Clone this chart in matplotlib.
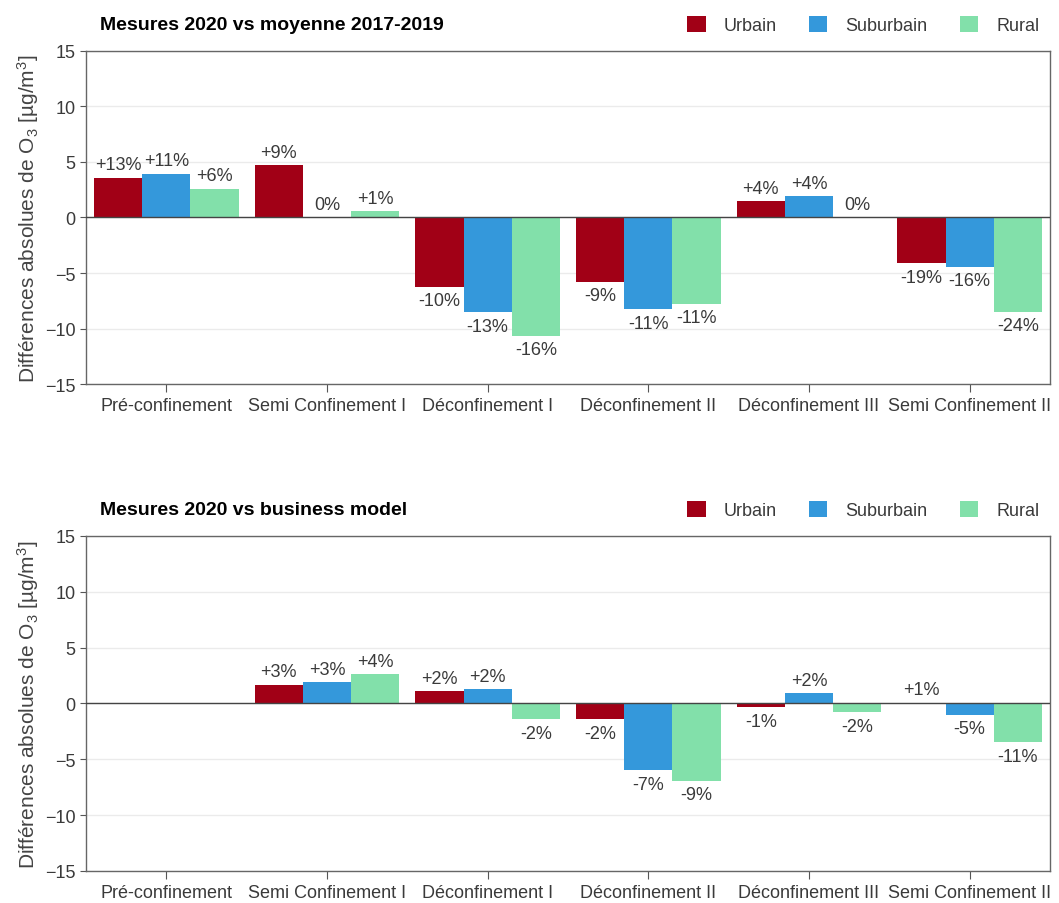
import matplotlib.pyplot as plt
import numpy as np
from matplotlib.patches import Patch

plt.rcParams["font.family"] = ["Liberation Sans", "DejaVu Sans"]
plt.rcParams["mathtext.fontset"] = "custom"
plt.rcParams["mathtext.rm"] = "Liberation Sans"
plt.rcParams["mathtext.it"] = "Liberation Sans:italic"

periods = [
    "Pré-confinement",
    "Semi Confinement I",
    "Déconfinement I",
    "Déconfinement II",
    "Déconfinement III",
    "Semi Confinement II",
]
zones = ["Urbain", "Suburbain", "Rural"]
zone_colors = ["#a10016", "#3498db", "#82e0aa"]

# Mesures 2020 vs moyenne 2017-2019 (µg/m3)
hist_urbain = [3.6, 4.7, -6.25, -5.8, 1.45, -4.1]
hist_suburbain = [3.95, 0.05, -8.55, -8.25, 1.9, -4.45]
hist_rural = [2.6, 0.55, -10.65, -7.75, 0.03, -8.5]
hist_labels_urbain = ["+13%", "+9%", "-10%", "-9%", "+4%", "-19%"]
hist_labels_suburbain = ["+11%", "0%", "-13%", "-11%", "+4%", "-16%"]
hist_labels_rural = ["+6%", "+1%", "-16%", "-11%", "0%", "-24%"]

# Mesures 2020 vs business model (µg/m3)
bm_urbain = [0.0, 1.7, 1.1, -1.4, -0.33, 0.08]
bm_suburbain = [0.0, 1.95, 1.3, -6.0, 0.9, -1.0]
bm_rural = [0.0, 2.6, -1.4, -6.9, -0.8, -3.45]
bm_labels_urbain = ["", "+3%", "+2%", "-2%", "-1%", "+1%"]
bm_labels_suburbain = ["", "+3%", "+2%", "-7%", "+2%", "-5%"]
bm_labels_rural = ["", "+4%", "-2%", "-9%", "-2%", "-11%"]

panels = [
    (
        "Mesures 2020 vs moyenne 2017-2019",
        [hist_urbain, hist_suburbain, hist_rural],
        [hist_labels_urbain, hist_labels_suburbain, hist_labels_rural],
    ),
    (
        "Mesures 2020 vs business model",
        [bm_urbain, bm_suburbain, bm_rural],
        [bm_labels_urbain, bm_labels_suburbain, bm_labels_rural],
    ),
]

fig = plt.figure(figsize=(10.59, 9.04), dpi=100)
ax_top = fig.add_axes([0.0812, 0.5741, 0.9103, 0.3684])
ax_bot = fig.add_axes([0.0812, 0.0354, 0.9103, 0.3706])

text_color = "#3a3a3a"
bar_width = 0.3
x = np.arange(len(periods))

for ax, (title, series, labels) in zip([ax_top, ax_bot], panels):
    ax.set_xlim(-0.5, len(periods) - 0.5)
    ax.set_ylim(-15, 15)
    ax.set_yticks([-15, -10, -5, 0, 5, 10, 15])
    ax.grid(axis="y", color="#ebebeb", linewidth=1.0)
    ax.set_axisbelow(True)

    for i, (vals, labs, color) in enumerate(zip(series, labels, zone_colors)):
        pos = x + (i - 1) * bar_width
        ax.bar(pos, vals, width=bar_width, color=color, zorder=2)
        for xp, v, lab in zip(pos, vals, labs):
            if not lab:
                continue
            if v >= 0:
                off, va = 3, "bottom"
            else:
                off, va = -4, "top"
            ax.annotate(
                lab,
                (xp, v),
                xytext=(0, off),
                textcoords="offset points",
                ha="center",
                va=va,
                fontsize=13,
                color=text_color,
            )

    ax.axhline(0, color="#444444", linewidth=1.0, zorder=3)

    ax.set_xticks(x)
    ax.set_xticklabels(periods, fontsize=13, color=text_color)
    ax.tick_params(axis="y", labelsize=13, labelcolor=text_color, colors="#555555",
                   length=4)
    ax.tick_params(axis="x", colors="#555555", labelcolor=text_color, length=6)
    for spine in ax.spines.values():
        spine.set_color("#666666")
        spine.set_linewidth(1.0)

    ax.set_ylabel(r"Différences absolues de O$_3$ [µg/m$^3$]", fontsize=15,
                  color="#444444", labelpad=3)
    ax.set_title(title, loc="left", fontsize=14, fontweight="bold",
                 x=0.015, pad=16)

    handles = [Patch(facecolor=c, label=z) for z, c in zip(zones, zone_colors)]
    ax.legend(
        handles=handles,
        loc="lower right",
        bbox_to_anchor=(1.0, 1.018),
        ncol=3,
        frameon=False,
        fontsize=13,
        handlelength=1.0,
        handleheight=1.0,
        handletextpad=1.0,
        columnspacing=1.8,
        borderaxespad=0.2,
        labelcolor=text_color,
    )

fig.savefig("out.png", dpi=100)
